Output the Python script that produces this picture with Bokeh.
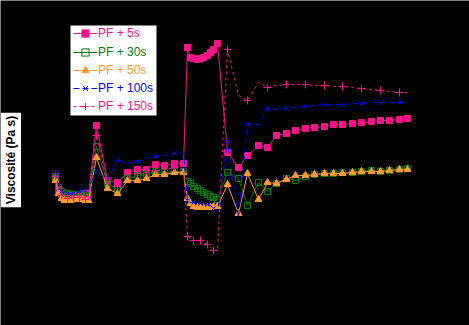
import numpy as np
from bokeh.plotting import figure
from bokeh.models import Range1d, Legend, LegendItem, Label, BoxAnnotation
from bokeh.embed import file_html
from bokeh.resources import INLINE

# ---------------- data (time in s, viscosity in Pa s) ----------------
time_s = [0, 3, 6, 9, 12, 15, 18, 21, 24, 27, 30, 33,
          41, 52, 62, 72, 82, 91, 100, 109, 119, 128,
          132, 135, 138, 142, 145, 148, 152, 155, 158, 162,
          172, 183, 192, 203, 212, 221, 231, 240, 250, 259,
          269, 278, 287, 297, 306, 316, 325, 334, 344, 352]

visc_5s = [1.24, 1.11, 1.07, 1.05, 1.05, 1.04, 1.05, 1.05, 1.06, 1.06, 1.07, 1.06,
           1.75, 1.20, 1.18, 1.28, 1.31, 1.31, 1.36, 1.35, 1.37, 1.37,
           2.53, 2.43, 2.42, 2.41, 2.42, 2.43, 2.45, 2.48, 2.51, 2.57,
           1.48, 1.33, 1.45, 1.55, 1.53, 1.65, 1.67, 1.70, 1.72, 1.73,
           1.74, 1.76, 1.76, 1.77, 1.78, 1.79, 1.80, 1.80, 1.81, 1.82]

visc_30s = [1.23, 1.13, 1.09, 1.07, 1.07, 1.06, 1.06, 1.06, 1.06, 1.06, 1.05, 1.04,
            1.54, 1.17, 1.11, 1.22, 1.25, 1.26, 1.29, 1.28, 1.29, 1.29,
            1.19, 1.17, 1.14, 1.12, 1.10, 1.08, 1.06, 1.04, 1.03, 1.01,
            1.28, 1.22, 0.95, 1.18, 1.09, 1.17, 1.22, 1.20, 1.24, 1.26,
            1.27, 1.27, 1.28, 1.28, 1.29, 1.30, 1.29, 1.30, 1.31, 1.32]

visc_50s = [1.20, 1.07, 1.02, 1.00, 1.00, 1.00, 1.01, 1.01, 1.01, 1.01, 1.00, 1.00,
            1.43, 1.12, 1.07, 1.20, 1.20, 1.22, 1.26, 1.26, 1.28, 1.28,
            1.02, 0.97, 0.94, 0.93, 0.93, 0.93, 0.93, 0.93, 0.94, 0.94,
            1.16, 0.87, 1.27, 1.01, 1.18, 1.17, 1.21, 1.25, 1.25, 1.26,
            1.27, 1.27, 1.27, 1.28, 1.29, 1.29, 1.29, 1.30, 1.31, 1.31]

visc_100s = [1.28, 1.15, 1.09, 1.08, 1.07, 1.07, 1.07, 1.08, 1.09, 1.10, 1.10, 1.12,
             1.30, 1.20, 1.41, 1.37, 1.39, 1.42, 1.44, 1.45, 1.47, 1.48,
             1.00, 0.98, 0.98, 0.97, 0.97, 0.96, 0.96, 0.95, 0.92, 0.89,
             1.59, 0.83, 1.76, 1.76, 1.92, 1.91, 1.92, 1.93, 1.94, 1.95,
             1.96, 1.96, 1.96, 1.97, 1.97, 1.98, 1.98, 1.98, 1.98, 1.98]

visc_150s = [1.24, 1.10, 1.05, 1.03, 1.02, 1.02, 1.03, 1.03, 1.03, 1.02, 1.01, 1.02,
             1.65, 1.17, 1.14, 1.23, 1.27, 1.27, 1.30, 1.31, 1.33, 1.32,
             0.64, 0.62, 0.60, 0.60, 0.60, 0.58, 0.56, 0.53, 0.50, 0.50,
             2.51, 2.05, 2.00, 2.18, 2.13, 2.15, 2.16, 2.16, 2.16, 2.15,
             2.15, 2.14, 2.14, 2.13, 2.12, 2.11, 2.10, 2.09, 2.08, 2.08]

series_names = ["PF + 5s", "PF + 30s", "PF + 50s", "PF + 100s", "PF + 150s"]
y_label = "Viscosité (Pa s)"

# ---------------- styles ----------------
PINK = "#F7148B"
GREEN = "#008000"
ORANGE = "#FF9933"
BLUE = "#0000FF"

styles = [
    dict(color=PINK, dash="solid", marker="square", size=6, fill=PINK, step=1),
    dict(color=GREEN, dash="solid", marker="square", size=6, fill=None, step=1),
    dict(color=ORANGE, dash="solid", marker="triangle", size=7, fill=ORANGE, step=1),
    dict(color=BLUE, dash="6 3", marker="x", size=6, fill=None, step=2),
    dict(color=PINK, dash="3 3", marker="cross", size=8, fill=None, step=2),
]
all_visc = [visc_5s, visc_30s, visc_50s, visc_100s, visc_150s]

W, H = 469, 325
p = figure(width=W, height=H, output_backend="svg", toolbar_location=None,
           x_range=Range1d(-55, 414), y_range=Range1d(-0.25, 3.0),
           x_axis_location=None, y_axis_location=None, min_border=0,
           background_fill_color="black", border_fill_color="black",
           outline_line_color=None)
p.grid.visible = False

renderers = []
for name, vals, st in zip(series_names, all_visc, styles):
    lr = p.line(time_s, vals, line_color=st["color"], line_width=1,
                line_dash=st["dash"])
    xs = time_s[::st["step"]]
    ys = vals[::st["step"]]
    mr = p.scatter(xs, ys, marker=st["marker"], size=st["size"],
                   line_color=st["color"], line_width=1,
                   fill_color=st["fill"] if st["fill"] else None)
    renderers.append((lr, mr))

# legend background
box = BoxAnnotation(left=70, right=156, top=H - 25, bottom=H - 115,
                    left_units="screen", right_units="screen",
                    top_units="screen", bottom_units="screen",
                    fill_color="white", fill_alpha=1, line_color=None)
p.add_layout(box)

row_centers = [33, 52, 70, 88, 106]
for name, st, (lr, mr), cy in zip(series_names, styles, renderers, row_centers):
    leg = Legend(items=[LegendItem(label=name, renderers=[lr, mr])],
                 location=(73, H - (cy + 9)),
                 glyph_width=24, glyph_height=18, label_standoff=1,
                 padding=0, margin=0, spacing=0, label_height=18,
                 label_text_font="Liberation Sans", label_text_font_size="12px",
                 label_text_color=st["color"],
                 background_fill_alpha=0, border_line_alpha=0)
    p.add_layout(leg)

ylab = Label(x=10.5, y=H - 159.5, x_units="screen", y_units="screen",
             text=y_label, angle=np.pi / 2, text_align="center",
             text_baseline="middle", text_font="Liberation Sans",
             text_font_style="bold", text_font_size="12px", text_color="black",
             background_fill_color="white", padding=3)
p.add_layout(ylab)

open("out.html", "w").write(file_html(p, INLINE))
